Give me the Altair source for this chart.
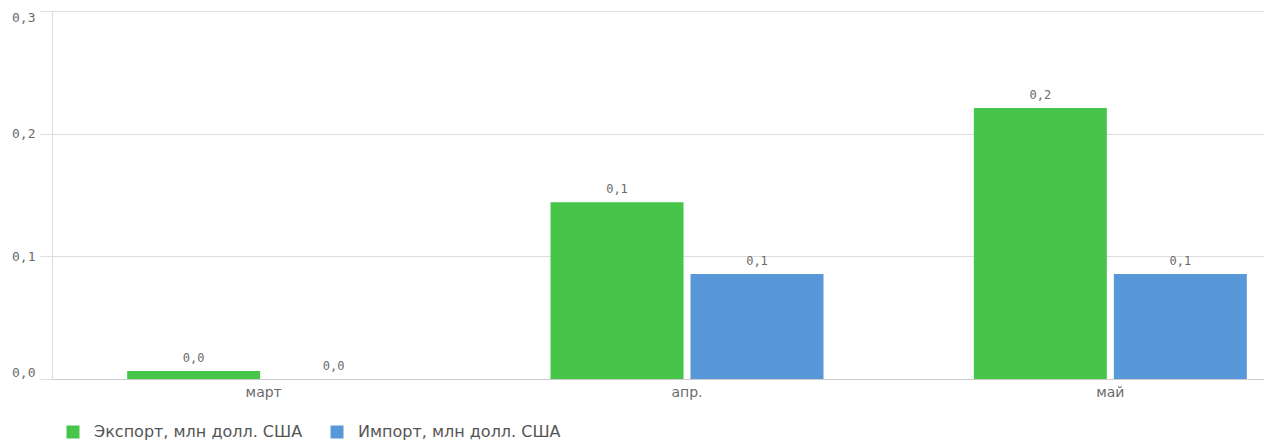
import altair as alt
import pandas as pd

months = ["март", "апр.", "май"]
series = ["Экспорт, млн долл. США", "Импорт, млн долл. США"]
export_vals = [0.0065, 0.144, 0.221]
import_vals = [0.0, 0.0856, 0.0856]
colors = ["#47C44A", "#5898D8"]
y_ticks = [0.0, 0.1, 0.2, 0.3]

rows = []
for i, m in enumerate(months):
    rows.append({"month": m, "series": series[0], "value": export_vals[i]})
    rows.append({"month": m, "series": series[1], "value": import_vals[i]})
df = pd.DataFrame(rows)

mono = "DejaVu Sans Mono"
sans = "DejaVu Sans"
grey = "#6b6b6b"

x_enc = alt.X(
    "month:N",
    sort=months,
    scale=alt.Scale(range=[0, 1270], paddingInner=0, paddingOuter=0),
    axis=alt.Axis(
        title=None, ticks=False, domain=True, domainColor="#cccccc",
        labelAngle=0, labelFont=sans, labelFontSize=14, labelColor=grey,
        labelPadding=6,
    ),
)
xoff_enc = alt.XOffset(
    "series:N", sort=series,
    scale=alt.Scale(paddingInner=0.05, paddingOuter=0.537),
)
y_enc = alt.Y(
    "value:Q",
    scale=alt.Scale(domain=[0, 0.3], nice=False),
    axis=alt.Axis(
        title=None, values=y_ticks, grid=True, gridColor="#dddddd",
        domain=True, domainColor="#dddddd", tickColor="#dddddd", tickSize=12,
        labelFont=mono, labelFontSize=13, labelColor=grey, labelPadding=5,
        labelFlush=True, labelFlushOffset=0,
        labelExpr="replace(format(datum.value, '.1f'), '.', ',')",
    ),
)

bars = alt.Chart(df).mark_bar().encode(
    x=x_enc,
    xOffset=xoff_enc,
    y=y_enc,
    color=alt.Color(
        "series:N", sort=series,
        scale=alt.Scale(domain=series, range=colors),
        legend=alt.Legend(
            title=None, orient="none", legendX=13, legendY=413,
            direction="horizontal", symbolType="square", symbolSize=169,
            symbolStrokeWidth=0, labelFont=sans, labelFontSize=16,
            labelColor="#555555", labelOffset=13, columnPadding=26, padding=0,
            labelLimit=400,
        ),
    ),
)

labels = alt.Chart(df).transform_calculate(
    lbl="replace(format(datum.value, '.1f'), '.', ',')"
).mark_text(
    baseline="bottom", dy=-6, font=mono, fontSize=12, color=grey
).encode(
    x=alt.X("month:N", sort=months),
    xOffset=alt.XOffset("series:N", sort=series),
    y=alt.Y("value:Q"),
    text="lbl:N",
)

chart = alt.layer(bars, labels).properties(
    width=1212, height=368,
    autosize=alt.AutoSizeParams(type="none"),
    padding={"left": 44, "top": 3, "right": 0, "bottom": 63},
).configure_view(stroke=None)

chart.save("out.html", embed_options={"renderer": "svg", "actions": False})
